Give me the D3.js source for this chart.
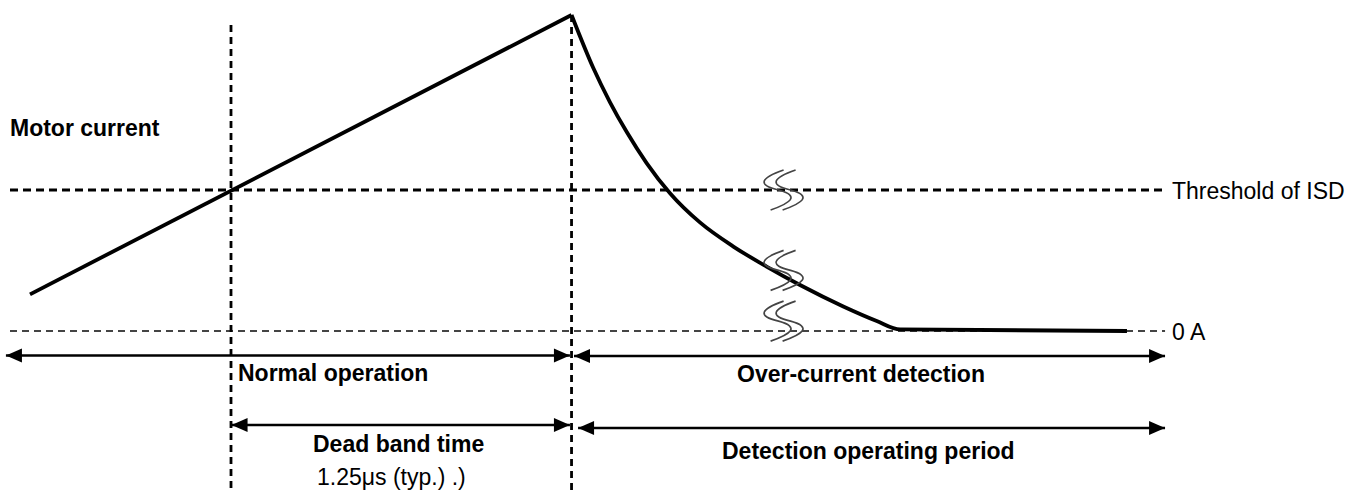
<!DOCTYPE html>
<html lang="en">
<head>
  <meta charset="UTF-8">
  <script src="https://d3js.org/d3.v7.min.js"></script>
  <title>ISD timing</title>
  <style>
  body { margin: 0; background: #fff; }
  svg { display: block; }
  text {
      font-family: "Liberation Sans", Arial, sans-serif;
      font-size: 23px;
      fill: #000;
  }
  .bold { font-weight: bold; }
  </style>
</head>
<body>
<svg id="chart" width="1364" height="491"></svg>
<script>
  // time in us (0 = start of dead band), current relative to ISD threshold
  const riseT = [-0.739, 1.252];
  const riseI = [0.26, 2.241];
  const decayT = [1.252, 1.332, 1.393, 1.455, 1.528, 1.614, 1.724, 1.847, 1.969, 2.092, 2.251, 2.374, 2.46, 3.294];
  const decayI = [2.241, 1.865, 1.624, 1.411, 1.191, 0.977, 0.770, 0.599, 0.457, 0.326, 0.174, 0.071, 0.011, 0.0];

  const levels = [
    {name: "Threshold of ISD", value: 1, width: 3, color: "#000", dash: "8,5"},
    {name: "0 A", value: 0, width: 2, color: "#444", dash: "7,5"}
  ];
  const markers = [0, 1.252];       // dead band start / over-current detected
  const breakT = 2.05;               // time-axis break marks
  const breakI = [1.0, 0.43, 0.07];

  const svg = d3.select("svg#chart");
  const x = d3.scaleLinear().domain([0, 1.25]).range([231, 571]);
  const y = d3.scaleLinear().domain([0, 1]).range([331, 190]);
  const tMin = -0.8125, tMax = 3.434;

  // horizontal reference levels
  svg.selectAll("line.level")
    .data(levels)
    .join("line")
      .attr("class", "level")
      .attr("x1", x(tMin)).attr("x2", x(tMax))
      .attr("y1", d => y(d.value)).attr("y2", d => y(d.value))
      .attr("stroke", d => d.color)
      .attr("stroke-width", d => d.width)
      .attr("stroke-dasharray", d => d.dash);

  svg.selectAll("text.level")
    .data(levels)
    .join("text")
      .attr("class", "level")
      .attr("x", 1172)
      .attr("y", d => y(d.value) + 8.5)
      .text(d => d.name);

  // vertical markers
  svg.selectAll("line.marker")
    .data(markers)
    .join("line")
      .attr("class", "marker")
      .attr("x1", d => x(d)).attr("x2", d => x(d))
      .attr("y1", (d, i) => i == 0 ? 25 : 15)
      .attr("y2", 491)
      .attr("stroke", "#000")
      .attr("stroke-width", 2.8)
      .attr("stroke-dasharray", "7,5");

  // motor current
  const line = d3.line().x(d => x(d[0])).y(d => y(d[1]));
  svg.append("path")
    .attr("d", line(d3.zip(riseT, riseI)))
    .attr("fill", "none").attr("stroke", "#000").attr("stroke-width", 3.8);
  svg.append("path")
    .attr("d", line.curve(d3.curveMonotoneX)(d3.zip(decayT, decayI)))
    .attr("fill", "none").attr("stroke", "#000").attr("stroke-width", 3.8)
    .attr("stroke-linejoin", "round");

  // break marks (two S strokes each)
  const sPath = "M 5 -20 C -18 -12, -22 -5, 0 0 C 22 6, 12 13, -8 20";
  breakI.forEach(v => {
    [0, 12].forEach(dx => {
      svg.append("path")
        .attr("d", sPath)
        .attr("transform", `translate(${x(breakT) + dx - 10},${y(v)})`)
        .attr("fill", "none").attr("stroke", "#444").attr("stroke-width", 1.6);
    });
  });

  // arrows
  const defs = svg.append("defs");
  ["end", "start"].forEach(k => {
    defs.append("marker")
      .attr("id", "arrow-" + k)
      .attr("markerUnits", "userSpaceOnUse")
      .attr("markerWidth", 18).attr("markerHeight", 16)
      .attr("viewBox", "0 -8 16 16")
      .attr("refX", 16).attr("refY", 0)
      .attr("orient", k == "end" ? "auto" : "auto-start-reverse")
      .append("path")
        .attr("d", "M0,-7L16,0L0,7Z")
        .attr("fill", "#000");
  });

  const spans = [
    {t0: tMin - 0.015, t1: 1.246, row: 355.5},
    {t0: 1.261, t1: tMax, row: 356},
    {t0: 0.002, t1: 1.246, row: 425},
    {t0: 1.276, t1: tMax, row: 428}
  ];
  svg.selectAll("line.span")
    .data(spans)
    .join("line")
      .attr("class", "span")
      .attr("x1", d => x(d.t0)).attr("x2", d => x(d.t1))
      .attr("y1", d => d.row).attr("y2", d => d.row)
      .attr("stroke", "#000").attr("stroke-width", 2.5)
      .attr("marker-start", "url(#arrow-start)")
      .attr("marker-end", "url(#arrow-end)");

  // labels
  const labels = [
    {text: "Motor current", px: 10, py: 136, bold: true},
    {text: "Normal operation", px: 238, py: 381, bold: true},
    {text: "Over-current detection", px: 737, py: 381.5, bold: true},
    {text: "Dead band time", px: 313, py: 452, bold: true},
    {text: "Detection operating period", px: 722, py: 458.5, bold: true},
    {text: "1.25\u03bcs (typ.) .)", px: 317, py: 485, bold: false}
  ];
  svg.selectAll("text.label")
    .data(labels)
    .join("text")
      .attr("class", d => "label" + (d.bold ? " bold" : ""))
      .attr("x", d => d.px)
      .attr("y", d => d.py)
      .text(d => d.text);
</script>
</body>
</html>
